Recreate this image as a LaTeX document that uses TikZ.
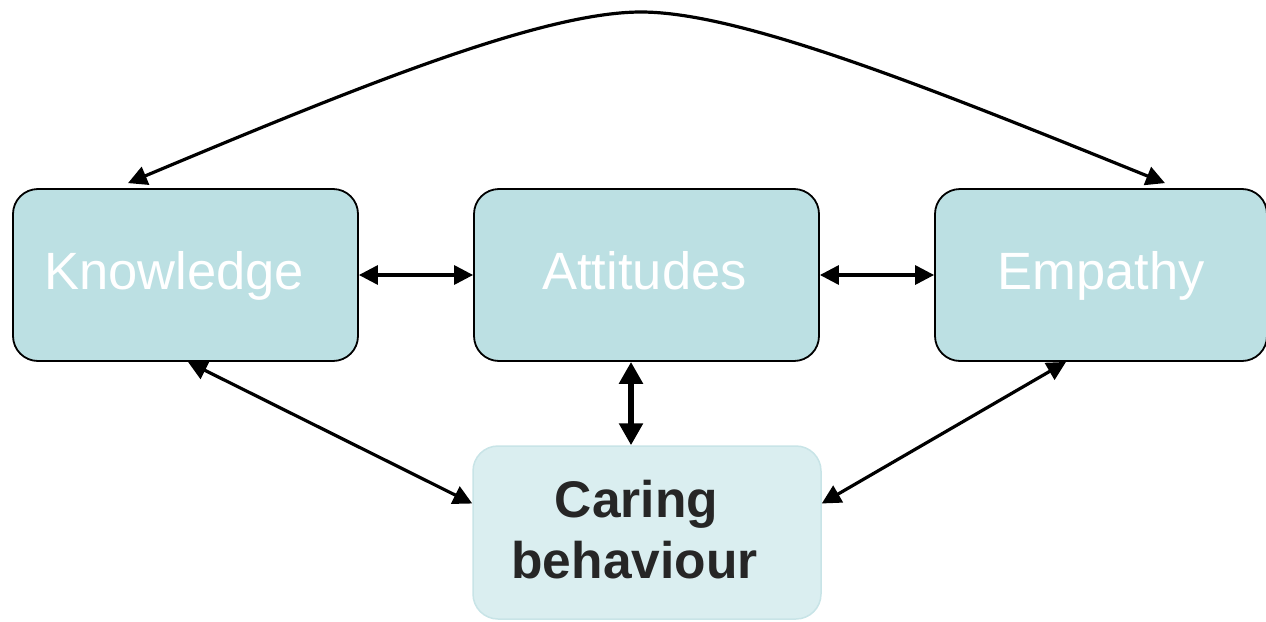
\documentclass[tikz,border=0pt]{standalone}
\usepackage{fontspec}
\setmainfont{Liberation Sans}
\usetikzlibrary{arrows.meta}
\definecolor{boxfill}{HTML}{BCE0E3}
\definecolor{carefill}{HTML}{DAEEF0}
\definecolor{careline}{HTML}{C8E4E7}
\definecolor{caretext}{HTML}{262626}
\begin{document}
\begin{tikzpicture}[x=1pt,y=-1pt,
  topbox/.style={draw=black,line width=1.8pt,fill=boxfill,rounded corners=25pt,
    minimum height=172pt,inner sep=0pt},
  toptext/.style={anchor=base,inner sep=0pt,text=white,font=\fontsize{52.5}{60}\selectfont},
  carebox/.style={draw=careline,line width=1.5pt,fill=carefill,rounded corners=25pt,
    minimum width=348pt,minimum height=173pt,inner sep=0pt},
  caretxt/.style={anchor=base,inner sep=0pt,text=caretext,font=\fontsize{51.5}{61}\selectfont\bfseries},
  link/.style={line width=3.2pt,{Triangle[length=19pt,width=19pt]}-{Triangle[length=19pt,width=19pt]}},
  thick link/.style={line width=6pt,{Triangle[length=22pt,width=23pt]}-{Triangle[length=22pt,width=23pt]}}]
\useasboundingbox (0,0) rectangle (1266,621);
\begin{scope}
\clip (0,0) rectangle (1266,621);
\node[topbox,minimum width=345pt] (k) at (185.5,275) {};
\node[topbox,minimum width=345pt] (a) at (646.5,275) {};
\node[topbox,minimum width=332pt] (e) at (1101,275) {};
\node[carebox] (c) at (647,532.5) {};
\end{scope}
\node[toptext] (kt) at (174,289) {Knowledge};
\node[toptext] (at) at (644.5,289) {Attitudes};
\node[toptext] (et) at (1101,289) {Empathy};
\node[caretxt] (ct1) at (636.5,517) {Caring};
\node[caretxt] (ct2) at (634.5,578) {behaviour};
\draw[link] (k.east) -- (a.west);
\draw[link] (a.east) -- (e.west);
\draw[thick link] ([xshift=-15.5pt]a.south) -- ([xshift=-16pt]c.north);
\draw[link] ([xshift=2.5pt]k.south) -- ([yshift=29pt]c.west);
\draw[link] ([xshift=-35pt]e.south) -- ([yshift=29pt]c.east);
\coordinate (kl) at ([xshift=-57.5pt,yshift=5pt]k.north);
\coordinate (er) at ([xshift=64pt,yshift=5pt]e.north);
\coordinate (top) at (641,12);
\draw[link] (kl) .. controls (350,90) and (540,12) .. (top)
  .. controls (742,12) and (935,90) .. (er);
\end{tikzpicture}
\end{document}
